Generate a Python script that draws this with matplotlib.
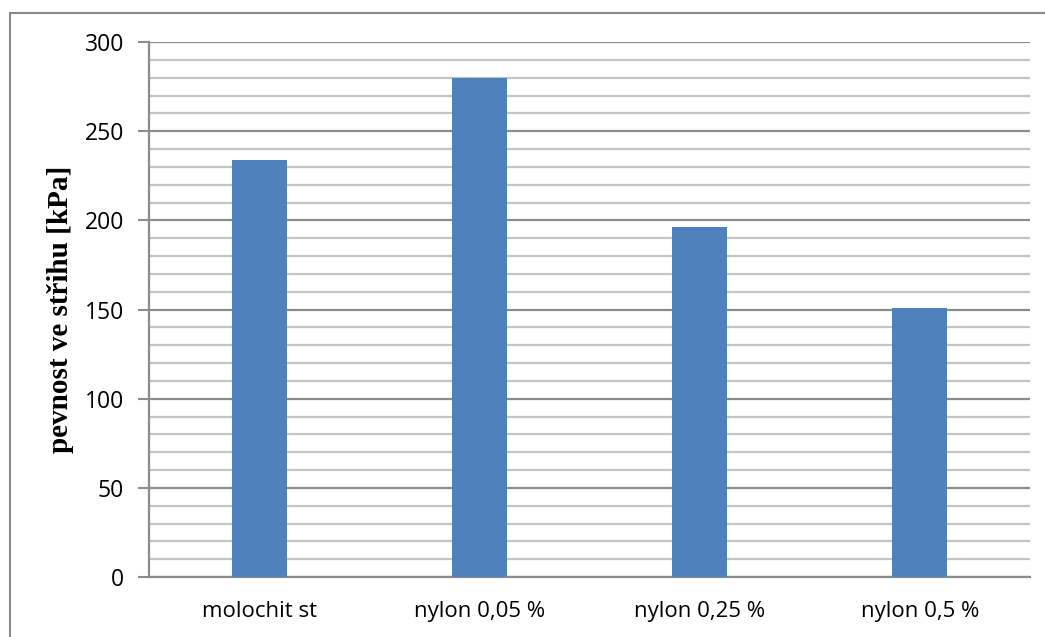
import matplotlib.pyplot as plt
from matplotlib.patches import Rectangle
from matplotlib.ticker import MultipleLocator

# pevnost ve střihu pro jednotlivé směsi
kategorie = ['molochit st', 'nylon 0,05 %', 'nylon 0,25 %', 'nylon 0,5 %']
pevnost = [234, 280, 196, 151]

fig = plt.figure(figsize=(10.45, 6.37), dpi=100)
ax = fig.add_axes([149 / 1045, 1 - 577 / 637, 881 / 1045, 535 / 637])

# ramecek kolem grafu (pravy a spodni okraj je oriznuty)
fig.patches.append(Rectangle((9.5 / 1045, -0.1), 1.2, 1 - 12.5 / 637 + 0.1,
                             transform=fig.transFigure, fill=False,
                             edgecolor='#888888', linewidth=1.5))

x = range(len(kategorie))
ax.bar(x, pevnost, width=0.25, color='#4F81BD', zorder=3)

ax.set_xlim(-0.5, len(kategorie) - 0.5)
ax.set_ylim(0, 300)
ax.yaxis.set_major_locator(MultipleLocator(50))
ax.yaxis.set_minor_locator(MultipleLocator(10))
ax.grid(True, which='minor', axis='y', color='#c4c4c4', linewidth=1.6, zorder=1)
ax.grid(True, which='major', axis='y', color='#8c8c8c', linewidth=1.6, zorder=2)

ax.set_xticks(list(x))
ax.set_xticklabels(kategorie, fontname='Open Sans', fontsize=16)
ax.tick_params(axis='x', length=0, pad=17)
ax.tick_params(axis='y', which='major', length=8, width=1.5, color='#8c8c8c',
               labelsize=16.5, pad=10)
ax.tick_params(axis='y', which='minor', length=0)
for lab in ax.get_yticklabels():
    lab.set_fontname('Open Sans')

for s in ['top', 'right']:
    ax.spines[s].set_visible(False)
for s in ['left', 'bottom']:
    ax.spines[s].set_color('#8c8c8c')
    ax.spines[s].set_linewidth(1.6)

ax.set_ylabel('pevnost ve střihu [kPa]', fontname='Liberation Serif',
              fontweight='bold', fontsize=21, labelpad=8)

plt.savefig('out.png', dpi=100)
